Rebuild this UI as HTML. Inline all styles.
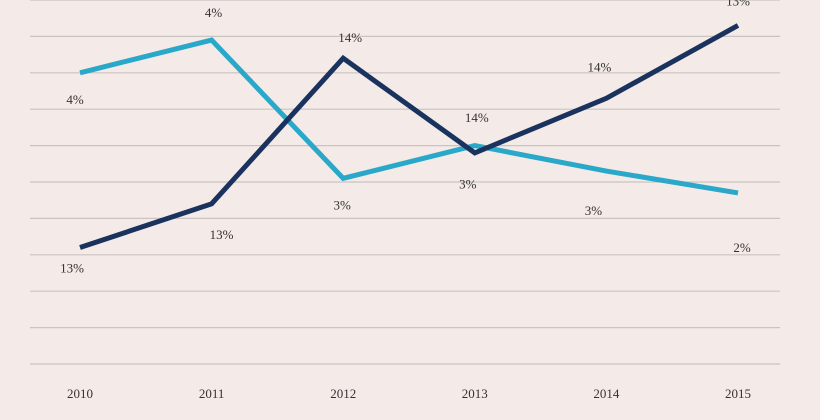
<!DOCTYPE html>
<html><head><meta charset="utf-8"><style>
html,body{margin:0;padding:0;background:#f4eae7;}
svg{display:block;font-family:"Liberation Serif",serif;}
</style></head><body>
<svg id="chart" width="820" height="420" viewBox="0 0 820 420">
<rect width="820" height="420" fill="#f4eae7"/>
<g id="grid"></g>
<g id="xaxis"></g>
<g id="series"></g>
</svg>
<script>
const categories = ["2010","2011","2012","2013","2014","2015"];
const lightValues = [8.0, 8.9, 5.1, 6.0, 5.3, 4.7];
const darkValues = [3.2, 4.4, 8.4, 5.8, 7.3, 9.3];
const lightLabels = ["4%","4%","3%","3%","3%","2%"];
const darkLabels = ["13%","13%","14%","14%","14%","13%"];
const gridTicks = [0,1,2,3,4,5,6,7,8,9,10];

const NS="http://www.w3.org/2000/svg";
const x0=80, x1=738, yBase=364, unit=36.4;
function xScale(i){return x0+(x1-x0)*i/(categories.length-1);}
function yScale(v){return yBase-v*unit;}
function mk(tag,attrs,parent){const e=document.createElementNS(NS,tag);for(const k in attrs)e.setAttribute(k,attrs[k]);parent.appendChild(e);return e;}

const grid=document.getElementById('grid');
gridTicks.forEach(t=>{
  const l=mk('line',{x1:30,x2:780,y1:yScale(t),y2:yScale(t),stroke:'#cbc3c1','stroke-width':1.2},grid);
  
  
});
const xa=document.getElementById('xaxis');
categories.forEach((c,i)=>{
  const t=mk('text',{x:xScale(i),y:398,'text-anchor':'middle','font-size':13,fill:'#333'},xa);
  t.textContent=c;
  
  
});
const sg=document.getElementById('series');
function drawSeries(vals,labels,color,name,offs){
  const pts=vals.map((v,i)=>xScale(i)+','+yScale(v)).join(' ');
  const p=mk('polyline',{points:pts,fill:'none',stroke:color,'stroke-width':5,'stroke-linejoin':'miter'},sg);
  
  
  vals.forEach((v,i)=>{
    const t=mk('text',{x:xScale(i)+offs[i][0],y:yScale(v)+offs[i][1],'text-anchor':'middle','font-size':13,fill:'#333'},sg);
    t.textContent=labels[i];
    
    
  });
}
drawSeries(lightValues,lightLabels,'#2aa8c9','light-series',[[-5,31],[2,-23],[-1,31],[-7,43],[-13,44],[4,59]]);
drawSeries(darkValues,darkLabels,'#1a325e','dark-series',[[-8,25],[10,35],[7,-16],[2,-31],[-7,-27],[0,-20]]);
</script>
</body></html>
